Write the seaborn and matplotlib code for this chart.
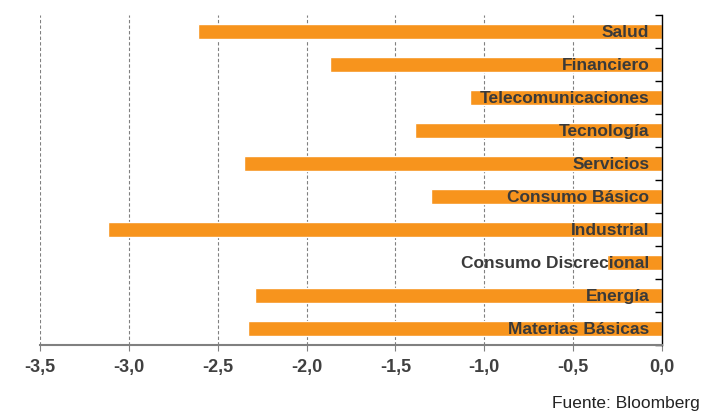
import pandas as pd
import matplotlib
matplotlib.use('Agg')
import matplotlib.pyplot as plt
import seaborn as sns

sectores = ['Salud', 'Financiero', 'Telecomunicaciones', 'Tecnología', 'Servicios',
            'Consumo Básico', 'Industrial', 'Consumo Discrecional', 'Energía',
            'Materias Básicas']
valores = [-2.61, -1.87, -1.08, -1.39, -2.35, -1.30, -3.12, -0.31, -2.29, -2.33]
xticks = [-3.5, -3.0, -2.5, -2.0, -1.5, -1.0, -0.5, 0.0]

data = pd.DataFrame({'Sector': sectores, 'Valor': valores})

sns.set_style('white')
plt.rcParams['font.family'] = ['Liberation Sans', 'DejaVu Sans']

fig = plt.figure(figsize=(7.17, 4.11), dpi=100)
ax = fig.add_axes([0.056, 0.161, 0.867, 0.803])

sns.barplot(data=data, y='Sector', x='Valor', orient='h', color='#F7941D',
            saturation=1, width=0.44, ax=ax)

ax.set_xlim(-3.5, 0)
ax.set_ylim(len(sectores) - 0.5, -0.5)
ax.set_xticks(xticks)
ax.set_xticklabels([f'{t:.1f}'.replace('.', ',') for t in xticks],
                   fontsize=13, fontweight='bold', color='#404040')
for t in xticks[:-1]:
    ax.axvline(t, color='#808080', linestyle=(0, (3, 2)), linewidth=0.8, zorder=0)

# labels inside bars, right aligned
for i, s in enumerate(sectores):
    ax.text(-0.07, i + 0.03, s, ha='right', va='center', fontsize=12.5,
            fontweight='bold', color='#3a3a3a')

ax.set_xlabel('')
ax.set_ylabel('')
ax.yaxis.tick_right()
ax.set_yticks([i - 0.5 for i in range(len(sectores) + 1)])
ax.set_yticklabels([])
ax.tick_params(axis='y', direction='in', length=5, width=1, color='black', right=True)
ax.tick_params(axis='x', direction='out', length=4, width=0.8, color='#808080',
               pad=6, bottom=True)

for side in ['top', 'left']:
    ax.spines[side].set_visible(False)
ax.spines['right'].set_color('black')
ax.spines['right'].set_linewidth(1)
ax.spines['bottom'].set_color('#808080')
ax.spines['bottom'].set_linewidth(1.5)

fig.text(0.976, 0.0, 'Fuente: Bloomberg', ha='right', va='bottom',
         fontsize=12.5, color='#222222')

fig.savefig('out.png', dpi=100)
